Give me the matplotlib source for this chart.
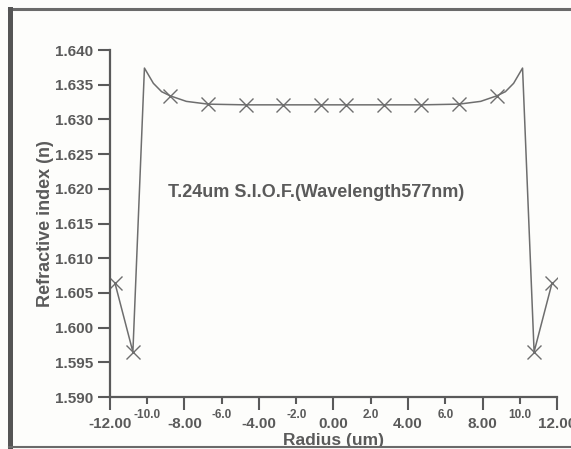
import matplotlib
matplotlib.use("Agg")
import matplotlib.pyplot as plt
from matplotlib.lines import Line2D

# refractive index profile across the fibre (um, n)
radius = [-11.73, -10.77, -10.15, -9.67, -9.23, -8.77, -7.90, -6.73, -4.72, -2.71, -0.67,
          0.67, 2.71, 4.72, 6.73, 7.90, 8.77, 9.23, 9.67, 10.15, 10.77, 11.73]
index_n = [1.6064, 1.5965, 1.6374, 1.6352, 1.6340, 1.6334, 1.6326, 1.6322, 1.6321, 1.6321, 1.6321,
           1.6321, 1.6321, 1.6321, 1.6322, 1.6326, 1.6334, 1.6340, 1.6352, 1.6374, 1.5965, 1.6064]
# which of the vertices are measured points (drawn with a cross)
measured = [0, 1, 5, 7, 8, 9, 10, 11, 12, 13, 14, 16, 20, 21]

major_x = [-12, -8, -4, 0, 4, 8, 12]
major_x_labels = ["-12.00", "-8.00", "-4.00", "0.00", "4.00", "8.00", "12.00"]
minor_x = [-10, -6, -2, 2, 6, 10]
minor_x_labels = ["-10.0", "-6.0", "-2.0", "2.0", "6.0", "10.0"]
y_ticks = [1.590, 1.595, 1.600, 1.605, 1.610, 1.615, 1.620, 1.625, 1.630, 1.635, 1.640]

ink = "#5a5a5a"
plt.rcParams['font.family'] = ['Liberation Sans', 'DejaVu Sans']
plt.rcParams['font.weight'] = 'bold'

fig = plt.figure(figsize=(5.71, 4.49), dpi=100)
fig.patch.set_facecolor("#fdfdfb")
ax = fig.add_axes([0.1926, 0.1158, 0.7829, 0.7728])
ax.set_facecolor("none")

ax.plot(radius, index_n, color="#6e6e6e", lw=1.1, marker='x', markevery=measured,
        markersize=10, mew=1.0, mec="#6e6e6e")

ax.set_xlim(-12, 12)
ax.set_ylim(1.590, 1.640)

ax.set_xticks(major_x, major_x_labels)
ax.set_xticks(minor_x, minor_x_labels, minor=True)
ax.set_yticks(y_ticks, [f"{v:.3f}" for v in y_ticks])

ax.tick_params(axis='x', which='major', length=9, width=1.5, color=ink, labelcolor=ink,
               labelsize=11, pad=5.5)
ax.tick_params(axis='x', which='minor', length=5, width=1.5, color=ink, labelcolor=ink,
               labelsize=8.5, pad=3.5)
ax.tick_params(axis='y', length=9, width=1.5, color=ink, labelcolor=ink, labelsize=11, pad=3)
for lab in ax.get_xticklabels(minor=True) + ax.get_xticklabels() + ax.get_yticklabels():
    lab.set_fontweight('bold')

for side in ['top', 'right']:
    ax.spines[side].set_visible(False)
for side in ['left', 'bottom']:
    ax.spines[side].set_color(ink)
    ax.spines[side].set_linewidth(1.6)

ax.set_xlabel("Radius (um)", fontsize=12.5, fontweight='bold', color=ink, labelpad=1)
ax.set_ylabel("Refractive index (n)", fontsize=13, fontweight='bold', color=ink, labelpad=1)

ax.text(-0.95, 1.6195, "T.24um S.I.O.F.(Wavelength577nm)", ha='center', va='center',
        fontsize=13, fontweight='bold', color=ink)

# frame around the figure
fig.add_artist(Line2D([0.016, 1.0], [0.980, 0.980], transform=fig.transFigure,
                      color="#6a6a6a", lw=2.2))
fig.add_artist(Line2D([0.018, 0.018], [0.0, 0.980], transform=fig.transFigure,
                      color="#555555", lw=3.6))
fig.add_artist(Line2D([0.016, 1.0], [0.004, 0.004], transform=fig.transFigure,
                      color="#6a6a6a", lw=1.5))

fig.savefig("out.png", dpi=100, facecolor=fig.get_facecolor())
